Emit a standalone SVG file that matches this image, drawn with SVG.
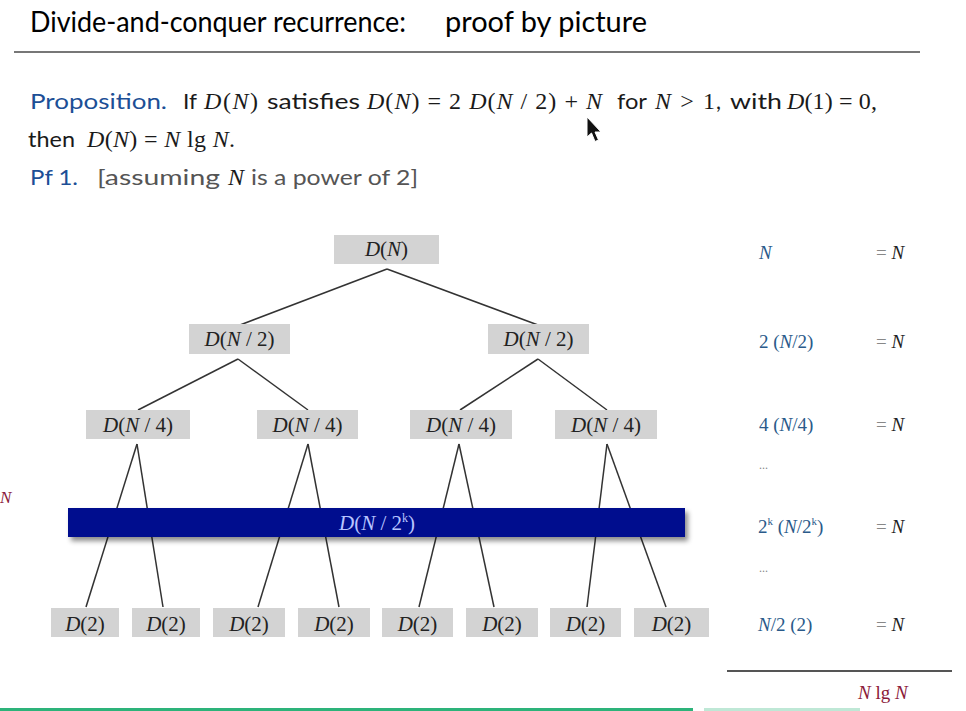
<svg xmlns="http://www.w3.org/2000/svg" width="966" height="711" viewBox="0 0 966 711">
<defs>
<style>
.sans{font-family:Lato,"Liberation Sans",sans-serif;font-size:22px;fill:#1a1a1a}
.blue{fill:#1c4f96}
.gray{fill:#555}
.ser{font-family:"Liberation Serif",serif;font-size:24px;fill:#1a1a1a}
.it{font-style:italic}
.node rect{fill:#d3d3d3}
.node text{font-family:"Liberation Serif",serif;font-size:21px;fill:#222;text-anchor:middle}
.edges line{stroke:#333;stroke-width:1.5}
.col{font-family:"Liberation Serif",serif;font-size:19px;fill:#2a5a8a}
.eq{font-family:"Liberation Serif",serif;font-size:19px;fill:#222}
.eq .e{fill:#888}
.dots{font-family:"Liberation Serif",serif;font-size:12px;fill:#888}
</style>
<filter id="sh" x="-5%" y="-30%" width="110%" height="180%">
<feDropShadow dx="3" dy="4" stdDeviation="2.5" flood-color="#000" flood-opacity="0.45"/>
</filter>
</defs>
<rect width="966" height="711" fill="#fff"/>

<!-- Title -->
<g id="title">
<text x="30" y="32" class="sans" style="font-size:28px;fill:#000" textLength="376" lengthAdjust="spacingAndGlyphs">Divide-and-conquer recurrence:</text>
<text x="445" y="32" class="sans" style="font-size:28px;fill:#000" textLength="202" lengthAdjust="spacingAndGlyphs">proof by picture</text>
<line x1="14" y1="52" x2="920" y2="52" stroke="#777" stroke-width="2"/>
</g>

<!-- Proposition -->
<g id="proposition">
<text x="30" y="109" class="sans blue" textLength="137" lengthAdjust="spacingAndGlyphs">Proposition.</text>
<text x="183" y="109" class="sans" textLength="14" lengthAdjust="spacingAndGlyphs">If</text>
<text x="204" y="109" class="ser" textLength="54"><tspan class="it">D</tspan>(<tspan class="it">N</tspan>)</text>
<text x="267" y="109" class="sans" textLength="93" lengthAdjust="spacingAndGlyphs">satisfies</text>
<text x="367" y="109" class="ser" textLength="235"><tspan class="it">D</tspan>(<tspan class="it">N</tspan>) = 2 <tspan class="it">D</tspan>(<tspan class="it">N</tspan> / 2) + <tspan class="it">N</tspan></text>
<text x="617" y="109" class="sans" textLength="30" lengthAdjust="spacingAndGlyphs">for</text>
<text x="655" y="109" class="ser" textLength="60"><tspan class="it">N</tspan> &gt; 1</text>
<text x="716" y="109" class="sans">,</text>
<text x="730" y="109" class="sans" textLength="52" lengthAdjust="spacingAndGlyphs">with</text>
<text x="787" y="109" class="ser" textLength="90"><tspan class="it">D</tspan>(1) = 0,</text>

<text x="28" y="147" class="sans" textLength="47" lengthAdjust="spacingAndGlyphs">then</text>
<text x="87" y="147" class="ser" textLength="148"><tspan class="it">D</tspan>(<tspan class="it">N</tspan>) = <tspan class="it">N</tspan> lg <tspan class="it">N</tspan>.</text>

<text x="30" y="185" class="sans blue" textLength="48" lengthAdjust="spacingAndGlyphs">Pf 1.</text>
<text x="97" y="185" class="sans gray" textLength="123" lengthAdjust="spacingAndGlyphs">[assuming</text>
<text x="228" y="185" class="ser it gray">N</text>
<text x="251" y="185" class="sans gray" textLength="167" lengthAdjust="spacingAndGlyphs">is a power of 2]</text>
</g>

<!-- cursor -->
<polygon points="587,117 587,137 591.5,133 595,141.5 598.5,140 595,132 601,132" fill="#111" stroke="#fff" stroke-width="1"/>

<!-- connectors -->
<g id="connectors" class="edges">
<line x1="387" y1="269" x2="240" y2="325"/>
<line x1="387" y1="269" x2="538" y2="325"/>
<line x1="238" y1="359" x2="138" y2="410"/>
<line x1="238" y1="359" x2="308" y2="410"/>
<line x1="538" y1="359" x2="460" y2="410"/>
<line x1="538" y1="359" x2="607" y2="410"/>
<line x1="137" y1="444" x2="86" y2="607"/>
<line x1="137" y1="444" x2="163" y2="607"/>
<line x1="308" y1="444" x2="258" y2="607"/>
<line x1="308" y1="444" x2="339" y2="607"/>
<line x1="459" y1="444" x2="419" y2="607"/>
<line x1="459" y1="444" x2="494" y2="607"/>
<line x1="607" y1="444" x2="587" y2="607"/>
<line x1="607" y1="444" x2="666" y2="607"/>
</g>

<!-- nodes -->
<g id="n-root" class="node"><rect x="334" y="235" width="105" height="29"/><text x="386.5" y="256"><tspan class="it">D</tspan>(<tspan class="it">N</tspan>)</text></g>
<g id="n-l1a" class="node"><rect x="189" y="324" width="101" height="30"/><text x="239.5" y="346"><tspan class="it">D</tspan>(<tspan class="it">N</tspan> / 2)</text></g>
<g id="n-l1b" class="node"><rect x="488" y="324" width="101" height="30"/><text x="538.5" y="346"><tspan class="it">D</tspan>(<tspan class="it">N</tspan> / 2)</text></g>
<g id="n-l2a" class="node"><rect x="86" y="410" width="104" height="29"/><text x="138" y="432"><tspan class="it">D</tspan>(<tspan class="it">N</tspan> / 4)</text></g>
<g id="n-l2b" class="node"><rect x="257" y="410" width="101" height="29"/><text x="307.5" y="432"><tspan class="it">D</tspan>(<tspan class="it">N</tspan> / 4)</text></g>
<g id="n-l2c" class="node"><rect x="410" y="410" width="102" height="29"/><text x="461" y="432"><tspan class="it">D</tspan>(<tspan class="it">N</tspan> / 4)</text></g>
<g id="n-l2d" class="node"><rect x="555" y="410" width="102" height="29"/><text x="606" y="432"><tspan class="it">D</tspan>(<tspan class="it">N</tspan> / 4)</text></g>

<g id="n-band">
<rect x="68" y="508" width="617" height="29" fill="#020a8e" filter="url(#sh)"/>
<text x="377" y="530" style="font-family:'Liberation Serif',serif;font-size:21px;fill:#b8c4ff" text-anchor="middle"><tspan class="it">D</tspan>(<tspan class="it">N</tspan> / 2<tspan font-size="12" dy="-8">k</tspan><tspan dy="8">)</tspan></text>
</g>

<g id="n-d1" class="node"><rect x="51" y="608" width="68" height="29"/><text x="85" y="631"><tspan class="it">D</tspan>(2)</text></g>
<g id="n-d2" class="node"><rect x="132" y="608" width="68" height="29"/><text x="166" y="631"><tspan class="it">D</tspan>(2)</text></g>
<g id="n-d3" class="node"><rect x="213" y="608" width="72" height="29"/><text x="249" y="631"><tspan class="it">D</tspan>(2)</text></g>
<g id="n-d4" class="node"><rect x="298" y="608" width="72" height="29"/><text x="334" y="631"><tspan class="it">D</tspan>(2)</text></g>
<g id="n-d5" class="node"><rect x="382" y="608" width="71" height="29"/><text x="417.5" y="631"><tspan class="it">D</tspan>(2)</text></g>
<g id="n-d6" class="node"><rect x="466" y="608" width="72" height="29"/><text x="502" y="631"><tspan class="it">D</tspan>(2)</text></g>
<g id="n-d7" class="node"><rect x="550" y="608" width="71" height="29"/><text x="585.5" y="631"><tspan class="it">D</tspan>(2)</text></g>
<g id="n-d8" class="node"><rect x="634" y="608" width="75" height="29"/><text x="671.5" y="631"><tspan class="it">D</tspan>(2)</text></g>

<!-- right column -->
<g id="costs">
<text x="759" y="259" class="col it">N</text>
<text x="759" y="348" class="col">2 (<tspan class="it">N</tspan>/2)</text>
<text x="759" y="431" class="col">4 (<tspan class="it">N</tspan>/4)</text>
<text x="759" y="469" class="dots">...</text>
<text x="758" y="533" class="col">2<tspan font-size="11" dy="-8">k</tspan><tspan dy="8"> (</tspan><tspan class="it">N</tspan>/2<tspan font-size="11" dy="-8">k</tspan><tspan dy="8">)</tspan></text>
<text x="759" y="572" class="dots">...</text>
<text x="758" y="631" class="col"><tspan class="it">N</tspan>/2 (2)</text>

<text x="876" y="259" class="eq"><tspan class="e">=</tspan> <tspan class="it">N</tspan></text>
<text x="876" y="348" class="eq"><tspan class="e">=</tspan> <tspan class="it">N</tspan></text>
<text x="876" y="431" class="eq"><tspan class="e">=</tspan> <tspan class="it">N</tspan></text>
<text x="876" y="533" class="eq"><tspan class="e">=</tspan> <tspan class="it">N</tspan></text>
<text x="876" y="631" class="eq"><tspan class="e">=</tspan> <tspan class="it">N</tspan></text>

<line x1="727" y1="671" x2="952" y2="671" stroke="#555" stroke-width="2"/>
<text x="858" y="699" style="font-family:'Liberation Serif',serif;font-size:19px;fill:#8b1a3a"><tspan class="it">N</tspan> lg <tspan class="it">N</tspan></text>
</g>

<text x="0" y="503" style="font-family:'Liberation Serif',serif;font-size:17px;fill:#8b1a3a;font-style:italic">N</text>

<!-- bottom bar -->
<rect x="0" y="708" width="693" height="3" fill="#2db37a"/>
<rect x="704" y="708" width="156" height="3" fill="#bfe8d6"/>
</svg>
